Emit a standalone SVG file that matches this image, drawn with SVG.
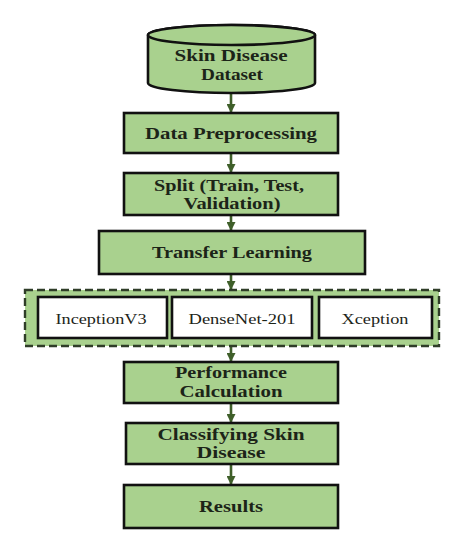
<svg xmlns="http://www.w3.org/2000/svg" width="464" height="550" viewBox="0 0 464 550">
<defs>
<style>
.box{fill:#a9d18e;stroke:#111;stroke-width:2.6}
.inner{fill:#fff;stroke:#111;stroke-width:2.6}
.cont{fill:#a9d18e;stroke:#2f3d28;stroke-width:2.4;stroke-dasharray:8 4}
.t{font-family:'Liberation Serif','Times New Roman',Tinos,serif;font-weight:bold;font-size:16.5px;fill:#1c2418;text-anchor:middle}
.t1{font-size:17.5px}
.ti{font-family:'Liberation Serif','Times New Roman',Tinos,serif;font-size:15px;fill:#1c2418;text-anchor:middle}
.arr{stroke:#3f5f2a;stroke-width:2.6;fill:none;marker-end:url(#ah)}
</style>
<marker id="ah" markerWidth="10" markerHeight="9" refX="8" refY="4.5" orient="auto" markerUnits="userSpaceOnUse">
<path d="M0,0 L9,4.5 L0,9 Z" fill="#3f5f2a"/>
</marker>
</defs>
<rect width="464" height="550" fill="#fff"/>
<g id="connectors">
<line class="arr" x1="231" y1="94" x2="231" y2="112"/>
<line class="arr" x1="231" y1="154" x2="231" y2="172"/>
<line class="arr" x1="231" y1="216" x2="231" y2="230"/>
<line class="arr" x1="231" y1="275" x2="231" y2="289"/>
<line class="arr" x1="231" y1="347" x2="231" y2="361"/>
<line class="arr" x1="231" y1="404" x2="231" y2="422"/>
<line class="arr" x1="231" y1="465" x2="231" y2="484"/>
</g>
<g id="dataset">
<path class="box" d="M148,35 L148,83 A83.5,10 0 0 0 315,83 L315,35 A83.5,10 0 0 0 148,35 Z"/>
<ellipse class="box" cx="231.5" cy="35" rx="83.5" ry="10"/>
<text class="t" x="231" y="61" textLength="113" lengthAdjust="spacingAndGlyphs">Skin Disease</text>
<text class="t" x="232" y="79.5" textLength="62" lengthAdjust="spacingAndGlyphs">Dataset</text>
</g>
<g id="preprocessing">
<rect class="box" x="124" y="113" width="214" height="40"/>
<text class="t t1" x="231" y="139" textLength="172" lengthAdjust="spacingAndGlyphs">Data Preprocessing</text>
</g>
<g id="split">
<rect class="box" x="124" y="173" width="214" height="42"/>
<text class="t" x="229" y="190.5" textLength="150" lengthAdjust="spacingAndGlyphs">Split (Train, Test,</text>
<text class="t" x="232" y="209" textLength="97" lengthAdjust="spacingAndGlyphs">Validation)</text>
</g>
<g id="transfer">
<rect class="box" x="99" y="231" width="266" height="43"/>
<text class="t t1" x="232" y="258" textLength="160" lengthAdjust="spacingAndGlyphs">Transfer Learning</text>
</g>
<g id="models">
<rect class="cont" x="25" y="290" width="414" height="56"/>
<g id="inception">
<rect class="inner" x="38" y="297" width="129" height="41"/>
<text class="ti" x="101" y="324" textLength="91" lengthAdjust="spacingAndGlyphs">InceptionV3</text>
</g>
<g id="densenet">
<rect class="inner" x="172" y="297" width="140" height="41"/>
<text class="ti" x="242" y="324" textLength="107" lengthAdjust="spacingAndGlyphs">DenseNet-201</text>
</g>
<g id="xception">
<rect class="inner" x="319" y="297" width="113" height="41"/>
<text class="ti" x="375" y="324" textLength="67" lengthAdjust="spacingAndGlyphs">Xception</text>
</g>
</g>
<g id="performance">
<rect class="box" x="124" y="362" width="214" height="41"/>
<text class="t" x="231" y="378" textLength="112" lengthAdjust="spacingAndGlyphs">Performance</text>
<text class="t" x="231" y="396.5" textLength="103" lengthAdjust="spacingAndGlyphs">Calculation</text>
</g>
<g id="classifying">
<rect class="box" x="126" y="423" width="212" height="41"/>
<text class="t" x="231" y="439.5" textLength="147" lengthAdjust="spacingAndGlyphs">Classifying Skin</text>
<text class="t" x="231" y="458" textLength="69" lengthAdjust="spacingAndGlyphs">Disease</text>
</g>
<g id="results">
<rect class="box" x="124" y="485" width="214" height="43"/>
<text class="t t1" x="231" y="512" textLength="64" lengthAdjust="spacingAndGlyphs">Results</text>
</g>
</svg>
